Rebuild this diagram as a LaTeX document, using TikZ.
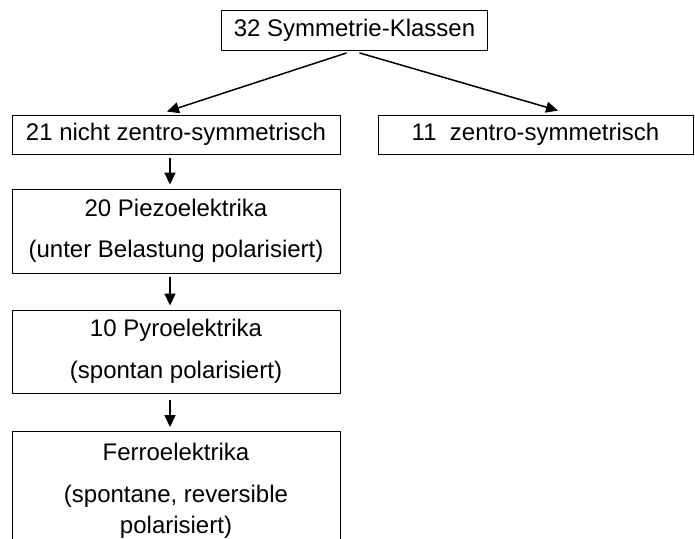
\documentclass[tikz,border=0pt]{standalone}
\usepackage{fontspec}
\setmainfont{Liberation Sans}
\usetikzlibrary{arrows.meta}
\begin{document}
\begin{tikzpicture}[x=1pt,y=-1pt,
  box/.style={draw=black, line width=0.9pt, rectangle, inner sep=0pt, align=center,
    font=\fontsize{24}{31}\selectfont},
  arr/.style={line width=1.5pt, -{Triangle[length=12pt,width=11pt]}}]
\useasboundingbox (0,0) rectangle (695,538);
\node[box, minimum width=266, minimum height=40] (top) at (354.5,30.5) {32 Symmetrie-Klassen};
\node[box, minimum width=328, minimum height=39] (n21) at (176,134.5) {21 nicht zentro-symmetrisch};
\node[box, minimum width=315, minimum height=39] (n11) at (535.5,134.5) {11\ \ zentro-symmetrisch};
\node[box, minimum width=328, minimum height=84] (piezo) at (176,231) {20 Piezoelektrika\\[10pt](unter Belastung polarisiert)};
\node[box, minimum width=328, minimum height=83] (pyro) at (176,351.5) {10 Pyroelektrika\\[11pt](spontan polarisiert)};
\node[box, minimum width=328, minimum height=119, anchor=north] (ferro) at (176,431) {Ferroelektrika\\[11pt](spontane, reversible\\polarisiert)};
\draw[arr] ([xshift=-8pt,yshift=-2pt]top.south) -- ([xshift=-9pt,yshift=3pt]n21.north);
\draw[arr] ([xshift=5pt,yshift=-2pt]top.south) -- ([xshift=22.5pt,yshift=4pt]n11.north);
\draw[arr] ([xshift=-6pt,yshift=-4pt]n21.south) -- ([xshift=-6pt,yshift=4pt]piezo.north);
\draw[arr] ([xshift=-6pt,yshift=-4pt]piezo.south) -- ([xshift=-6pt,yshift=4pt]pyro.north);
\draw[arr] ([xshift=-6pt,yshift=-7pt]pyro.south) -- ([xshift=-6pt,yshift=4pt]ferro.north);
\end{tikzpicture}
\end{document}
